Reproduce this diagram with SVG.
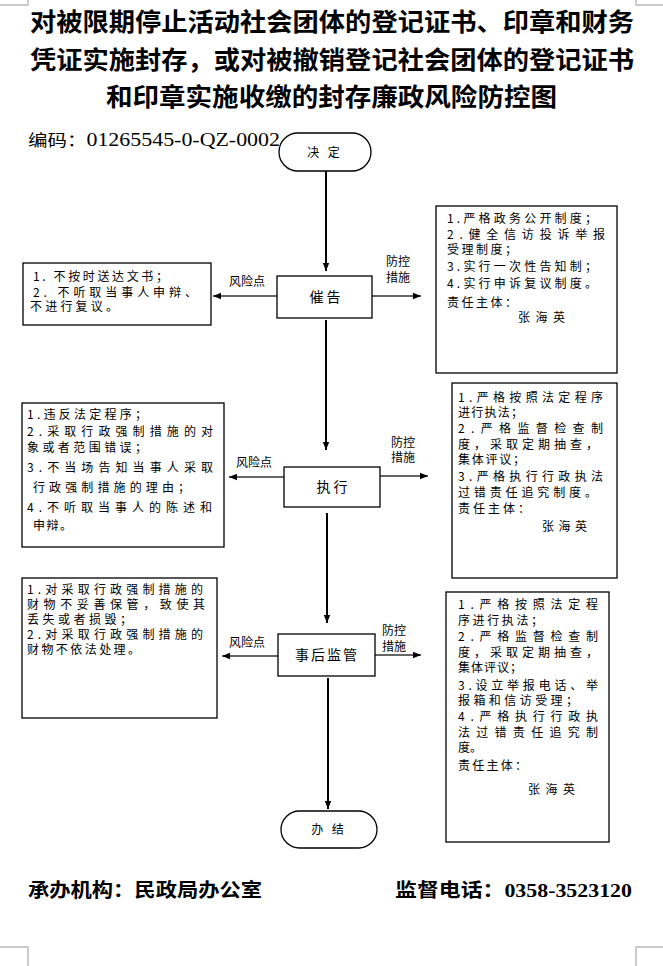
<svg xmlns="http://www.w3.org/2000/svg" width="663" height="966" viewBox="0 0 663 966">
<style>
.title{font-family:"Noto Sans CJK SC","Liberation Serif",serif;font-size:25px;font-weight:bold;fill:#000}
.t{font-family:"Noto Sans CJK SC","Liberation Sans",sans-serif;font-size:12px;fill:#000}
.nt{font-family:"Noto Sans CJK SC","Liberation Sans",sans-serif;font-size:14px;fill:#000}
.box{fill:#fff;stroke:#000;stroke-width:1.3}
.v{stroke:#000;stroke-width:2;fill:none}
.h{stroke:#333;stroke-width:1.4;fill:none}
.foot{font-family:"Liberation Serif","Noto Sans CJK SC",serif;font-size:19px;font-weight:bold;fill:#000}
.code{font-family:"Liberation Serif","Noto Sans CJK SC",serif;font-size:18px;fill:#000}
.crop{stroke:#999;stroke-width:1;fill:none}
</style>
<defs>
<marker id="ah" viewBox="0 0 10 10" refX="10" refY="5" markerWidth="8" markerHeight="8" markerUnits="userSpaceOnUse" orient="auto">
<path d="M0,1 L10,5 L0,9 z" fill="#000"/>
</marker>
</defs>
<rect width="663" height="966" fill="#fff"/>
<g id="cropmarks">
<path class="crop" d="M28,0 V5 H0 M636,0 V5 H663 M28,966 V947 H0 M636,966 V947 H663"/>
</g>
<g id="title">
<text class="title" x="30" y="31" textLength="604" lengthAdjust="spacingAndGlyphs">对被限期停止活动社会团体的登记证书、印章和财务</text>
<text class="title" x="30" y="69" textLength="604" lengthAdjust="spacingAndGlyphs">凭证实施封存，或对被撤销登记社会团体的登记证书</text>
<text class="title" x="106" y="106" textLength="451" lengthAdjust="spacingAndGlyphs">和印章实施收缴的封存廉政风险防控图</text>
</g>
<g id="code">
<text class="code" x="28" y="146" textLength="252" lengthAdjust="spacingAndGlyphs"><tspan font-family="Noto Sans CJK SC,sans-serif" font-size="16">编码：</tspan>01265545-0-QZ-0002</text>
</g>
<g id="connectors">
<path class="v" d="M326,171 V271" marker-end="url(#ah)"/>
<path class="v" d="M326,320 V450" marker-end="url(#ah)"/>
<path class="v" d="M327,513 V623" marker-end="url(#ah)"/>
<path class="v" d="M328,678 V809" marker-end="url(#ah)"/>
<path class="h" d="M277,296 H213" marker-end="url(#ah)"/>
<path class="h" d="M372,296 H421" marker-end="url(#ah)"/>
<path class="h" d="M284,477 H229" marker-end="url(#ah)"/>
<path class="h" d="M380,476 H428" marker-end="url(#ah)"/>
<path class="h" d="M278,656 H222" marker-end="url(#ah)"/>
<path class="h" d="M375,655 H421" marker-end="url(#ah)"/>
<text class="t" x="247" y="286" text-anchor="middle">风险点</text>
<text class="t" x="398" y="266" text-anchor="middle">防控</text>
<text class="t" x="398" y="282" text-anchor="middle">措施</text>
<text class="t" x="254" y="467" text-anchor="middle">风险点</text>
<text class="t" x="403" y="447" text-anchor="middle">防控</text>
<text class="t" x="403" y="462" text-anchor="middle">措施</text>
<text class="t" x="247" y="647" text-anchor="middle">风险点</text>
<text class="t" x="394" y="635" text-anchor="middle">防控</text>
<text class="t" x="394" y="651" text-anchor="middle">措施</text>
</g>
<g id="n-decide">
<rect class="box" x="279" y="133" width="92" height="38" rx="19"/>
<text class="t" x="325" y="157" text-anchor="middle" letter-spacing="3">决 定</text>
</g>
<g id="n-urge">
<rect class="box" x="277" y="276" width="95" height="42"/>
<text class="nt" x="325" y="302" text-anchor="middle">催  告</text>
</g>
<g id="n-exec">
<rect class="box" x="284" y="467" width="96" height="40"/>
<text class="nt" x="332" y="492" text-anchor="middle">执  行</text>
</g>
<g id="n-post">
<rect class="box" x="278" y="634" width="97" height="42"/>
<text class="nt" x="327" y="660" text-anchor="middle" letter-spacing="2">事后监管</text>
</g>
<g id="n-end">
<rect class="box" x="281" y="811" width="96" height="37" rx="18.5"/>
<text class="t" x="329" y="834" text-anchor="middle" letter-spacing="3">办 结</text>
</g>
<g id="risk1">
<rect class="box" x="23" y="263" width="188" height="62"/>
<text class="t" x="33" y="281" textLength="135" lengthAdjust="spacing">1.  不按时送达文书；</text>
<text class="t" x="33" y="297" textLength="164" lengthAdjust="spacing">2.  不听取当事人申辩、</text>
<text class="t" x="30" y="311" textLength="88" lengthAdjust="spacing">不进行复议。</text>
</g>
<g id="ctrl1">
<rect class="box" x="436" y="206" width="181" height="167"/>
<text class="t" x="447" y="223" textLength="150" lengthAdjust="spacing">1.严格政务公开制度；</text>
<text class="t" x="447" y="239" textLength="158" lengthAdjust="spacing">2.健全信访投诉举报</text>
<text class="t" x="447" y="254" textLength="70" lengthAdjust="spacing">受理制度；</text>
<text class="t" x="447" y="271" textLength="150" lengthAdjust="spacing">3.实行一次性告知制；</text>
<text class="t" x="447" y="288" textLength="150" lengthAdjust="spacing">4.实行申诉复议制度。</text>
<text class="t" x="447" y="307" textLength="70" lengthAdjust="spacing">责任主体：</text>
<text class="t" x="518" y="322" textLength="47" lengthAdjust="spacing">张海英</text>
</g>
<g id="risk2">
<rect class="box" x="22" y="403" width="202" height="144"/>
<text class="t" x="27" y="419" textLength="120" lengthAdjust="spacing">1.违反法定程序；</text>
<text class="t" x="27" y="436" textLength="186" lengthAdjust="spacing">2.采取行政强制措施的对</text>
<text class="t" x="27" y="452" textLength="120" lengthAdjust="spacing">象或者范围错误；</text>
<text class="t" x="27" y="472" textLength="186" lengthAdjust="spacing">3.不当场告知当事人采取</text>
<text class="t" x="33" y="492" textLength="157" lengthAdjust="spacing">行政强制措施的理由；</text>
<text class="t" x="27" y="512" textLength="185" lengthAdjust="spacing">4.不听取当事人的陈述和</text>
<text class="t" x="33" y="530" textLength="39" lengthAdjust="spacing">申辩。</text>
</g>
<g id="ctrl2">
<rect class="box" x="452" y="383" width="165" height="195"/>
<text class="t" x="458" y="402" textLength="145" lengthAdjust="spacing">1.严格按照法定程序</text>
<text class="t" x="458" y="417" textLength="65" lengthAdjust="spacing">进行执法；</text>
<text class="t" x="458" y="433" textLength="145" lengthAdjust="spacing">2.严格监督检查制</text>
<text class="t" x="458" y="449" textLength="140" lengthAdjust="spacing">度，采取定期抽查，</text>
<text class="t" x="458" y="464" textLength="67" lengthAdjust="spacing">集体评议；</text>
<text class="t" x="458" y="481" textLength="145" lengthAdjust="spacing">3.严格执行行政执法</text>
<text class="t" x="458" y="497" textLength="139" lengthAdjust="spacing">过错责任追究制度。</text>
<text class="t" x="458" y="513" textLength="72" lengthAdjust="spacing">责任主体：</text>
<text class="t" x="542" y="531" textLength="45" lengthAdjust="spacing">张海英</text>
</g>
<g id="risk3">
<rect class="box" x="22" y="578" width="195" height="140"/>
<text class="t" x="27" y="594" textLength="176" lengthAdjust="spacing">1.对采取行政强制措施的</text>
<text class="t" x="27" y="609" textLength="178" lengthAdjust="spacing">财物不妥善保管，致使其</text>
<text class="t" x="27" y="624" textLength="105" lengthAdjust="spacing">丢失或者损毁；</text>
<text class="t" x="27" y="639" textLength="176" lengthAdjust="spacing">2.对采取行政强制措施的</text>
<text class="t" x="27" y="654" textLength="113" lengthAdjust="spacing">财物不依法处理。</text>
</g>
<g id="ctrl3">
<rect class="box" x="446" y="592" width="163" height="250"/>
<text class="t" x="458" y="609" textLength="140" lengthAdjust="spacing">1.严格按照法定程</text>
<text class="t" x="458" y="625" textLength="85" lengthAdjust="spacing">序进行执法；</text>
<text class="t" x="458" y="641" textLength="140" lengthAdjust="spacing">2.严格监督检查制</text>
<text class="t" x="458" y="657" textLength="140" lengthAdjust="spacing">度，采取定期抽查，</text>
<text class="t" x="458" y="672" textLength="64" lengthAdjust="spacing">集体评议；</text>
<text class="t" x="458" y="690" textLength="140" lengthAdjust="spacing">3.设立举报电话、举</text>
<text class="t" x="458" y="705" textLength="120" lengthAdjust="spacing">报箱和信访受理；</text>
<text class="t" x="458" y="721" textLength="140" lengthAdjust="spacing">4.严格执行行政执</text>
<text class="t" x="458" y="737" textLength="140" lengthAdjust="spacing">法过错责任追究制</text>
<text class="t" x="458" y="752">度。</text>
<text class="t" x="458" y="770" textLength="69" lengthAdjust="spacing">责任主体：</text>
<text class="t" x="528" y="794" textLength="47" lengthAdjust="spacing">张海英</text>
</g>
<g id="footer">
<text class="foot" x="28" y="897" textLength="234" lengthAdjust="spacingAndGlyphs"><tspan font-family="Noto Sans CJK SC,sans-serif">承办机构：民政局办公室</tspan></text>
<text class="foot" x="395" y="897" textLength="237" lengthAdjust="spacingAndGlyphs"><tspan font-family="Noto Sans CJK SC,sans-serif">监督电话：</tspan>0358-3523120</text>
</g>
</svg>
